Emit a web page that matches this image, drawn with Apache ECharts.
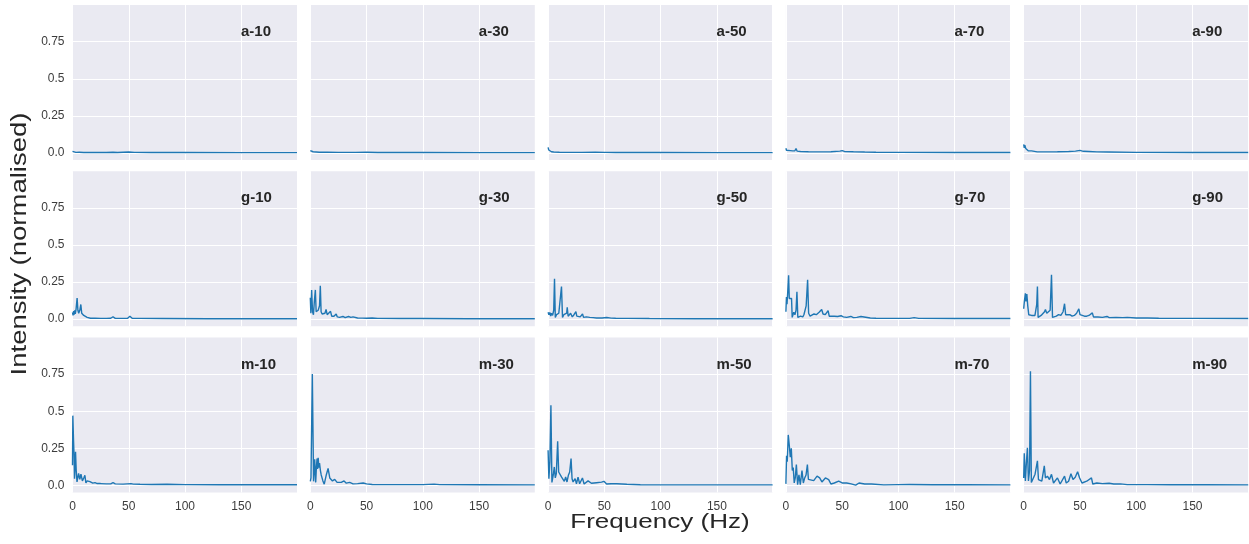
<!DOCTYPE html>
<html>
<head>
<meta charset="utf-8">
<script src="https://cdn.jsdelivr.net/npm/echarts@6/dist/echarts.min.js"></script>
<style>
html,body{margin:0;padding:0;background:#fff;}
#chart{width:1249px;height:544px;}
</style>
</head>
<body>
<div id="chart"></div>
<script>
// ---- data: [frequency (Hz), normalised intensity] ----
const rowKeys = ['a', 'g', 'm'];
const colKeys = ['10', '30', '50', '70', '90'];
const yTicks = [0, 0.25, 0.5, 0.75];
const yTickLabels = ['0.0', '0.25', '0.5', '0.75'];
const xTicks = [0, 50, 100, 150];

const a10 = [[0,0.011],[0.7,0.006],[1.5,0.009],[3,0.004],[6,0.005],[10,0.003],[20,0.004],[30,0.003],[36,0.005],[40,0.003],[50,0.006],[55,0.004],[70,0.003],[100,0.003],[150,0.002],[199.5,0.002]];
const a30 = [[0,0.016],[0.8,0.012],[1.6,0.015],[2.5,0.008],[4,0.006],[8,0.005],[15,0.005],[25,0.004],[40,0.004],[50,0.005],[60,0.003],[100,0.003],[150,0.002],[199.5,0.002]];
const a50 = [[0,0.038],[0.6,0.02],[1.2,0.028],[2,0.012],[3,0.008],[5,0.006],[10,0.005],[20,0.004],[30,0.004],[42,0.005],[50,0.004],[60,0.003],[100,0.003],[150,0.002],[199.5,0.002]];
const a70 = [[0,0.032],[0.5,0.018],[1.2,0.028],[2,0.02],[4,0.016],[6,0.014],[8,0.015],[9,0.03],[10,0.012],[13,0.01],[20,0.008],[30,0.007],[40,0.008],[48,0.012],[50,0.016],[52,0.01],[60,0.008],[70,0.006],[80,0.005],[100,0.004],[150,0.003],[199.5,0.003]];
const a90 = [[0,0.058],[0.5,0.035],[1,0.052],[1.8,0.03],[3,0.02],[4,0.015],[5.5,0.01],[7,0.014],[8,0.008],[12,0.007],[20,0.007],[30,0.008],[40,0.01],[46,0.012],[50,0.017],[53,0.011],[58,0.01],[65,0.007],[75,0.006],[100,0.004],[150,0.003],[199.5,0.003]];

const g10 = [[0,0.046],[0.5,0.025],[1,0.055],[1.5,0.03],[2,0.06],[2.5,0.035],[3.2,0.07],[4.1,0.143],[4.8,0.06],[5.5,0.04],[6.5,0.06],[7.4,0.099],[8.2,0.04],[9,0.03],[10,0.025],[11,0.015],[13,0.012],[16,0.006],[20,0.006],[25,0.005],[30,0.005],[34,0.006],[36,0.016],[38,0.005],[45,0.005],[49,0.006],[51,0.02],[53,0.006],[60,0.005],[80,0.004],[120,0.003],[199.5,0.003]];
const g30 = [[0,0.144],[0.5,0.04],[1.2,0.197],[2,0.05],[2.8,0.03],[3.6,0.12],[4.5,0.197],[5.2,0.05],[6,0.04],[7,0.06],[8.2,0.09],[8.9,0.225],[9.6,0.05],[10.5,0.035],[12,0.03],[13,0.04],[14,0.065],[15,0.03],[16.5,0.025],[18,0.053],[19,0.02],[21,0.02],[23,0.035],[24,0.015],[26,0.012],[29,0.018],[31,0.01],[34,0.018],[36,0.012],[38,0.015],[42,0.008],[46,0.007],[50,0.006],[55,0.008],[60,0.005],[80,0.004],[100,0.004],[140,0.003],[199.5,0.003]];
const g50 = [[0,0.046],[0.7,0.03],[1.5,0.045],[2.3,0.02],[3,0.04],[4,0.025],[5,0.06],[5.7,0.273],[6.4,0.012],[7.5,0.03],[8.5,0.02],[9.5,0.04],[10.5,0.03],[11.9,0.22],[12.8,0.012],[14,0.03],[15,0.02],[16.5,0.04],[17,0.08],[17.8,0.02],[19,0.03],[20,0.04],[21.5,0.015],[23,0.03],[24.7,0.05],[25.5,0.02],[27,0.025],[28.5,0.015],[30.6,0.035],[31.5,0.012],[34,0.015],[37,0.012],[40,0.01],[41.7,0.023],[43,0.008],[48,0.008],[52,0.011],[56,0.007],[60,0.006],[70,0.005],[90,0.004],[130,0.003],[199.5,0.003]];
const g70 = [[0,0.05],[0.5,0.15],[1,0.1],[1.6,0.18],[2.4,0.296],[3,0.139],[3.5,0.15],[4.2,0.139],[5,0.14],[5.6,0.012],[6.3,0.03],[7,0.046],[8,0.03],[9,0.06],[9.8,0.185],[10.6,0.012],[12,0.025],[13,0.02],[14,0.03],[15,0.015],[16,0.03],[17,0.04],[18,0.09],[19.3,0.266],[20.2,0.04],[21.5,0.02],[23,0.03],[25,0.035],[27,0.03],[29.5,0.046],[30.5,0.035],[31.8,0.065],[33,0.035],[35,0.03],[37.5,0.058],[38.5,0.02],[40,0.015],[43,0.02],[46,0.018],[49,0.023],[51,0.015],[54,0.012],[57.7,0.018],[60,0.01],[63,0.012],[66.7,0.018],[68,0.008],[75,0.008],[80,0.006],[90,0.005],[100,0.005],[110,0.005],[114,0.01],[118,0.005],[150,0.004],[199.5,0.004]];
const g90 = [[0,0.07],[0.6,0.12],[1.5,0.174],[2,0.12],[2.8,0.169],[3.6,0.09],[4.5,0.03],[5.5,0.02],[7,0.025],[8.5,0.02],[10,0.025],[11,0.03],[11.6,0.1],[12.2,0.22],[12.8,0.012],[14,0.02],[15.5,0.025],[17,0.02],[18.5,0.05],[19.3,0.065],[20.5,0.04],[22,0.04],[23.5,0.06],[24.7,0.3],[25.6,0.012],[27,0.025],[29,0.02],[31,0.03],[33,0.025],[35,0.05],[36.3,0.104],[37.3,0.03],[39,0.025],[41,0.03],[43,0.02],[45,0.025],[47,0.04],[49,0.07],[50,0.03],[52,0.025],[54,0.02],[56,0.02],[58,0.025],[61,0.042],[62,0.015],[66,0.015],[70,0.012],[74,0.018],[76,0.01],[82,0.012],[88,0.01],[92,0.012],[100,0.008],[110,0.008],[120,0.006],[150,0.005],[199.5,0.004]];

const m10 = [[0,0.136],[0.3,0.47],[0.9,0.307],[1.4,0.2],[1.8,0.045],[2.7,0.227],[3.3,0.1],[4,0.023],[5.4,0.08],[6.5,0.04],[7.5,0.075],[8.8,0.03],[10,0.05],[11,0.068],[11.9,0.016],[13,0.03],[14,0.02],[15.5,0.025],[17,0.03],[18,0.015],[20,0.018],[22,0.012],[25,0.012],[30,0.01],[34,0.01],[36,0.018],[38,0.01],[45,0.008],[52,0.012],[54,0.008],[60,0.007],[70,0.006],[84,0.007],[100,0.005],[130,0.004],[160,0.004],[199.5,0.004]];
const m30 = [[0,0.027],[0.6,0.05],[1.8,0.75],[2.9,0.027],[3.9,0.175],[4.8,0.02],[5.4,0.12],[6,0.18],[6.5,0.11],[7,0.186],[7.6,0.12],[8.2,0.15],[9,0.1],[9.7,0.07],[11.2,0.03],[12.4,0.008],[14.2,0.07],[15.8,0.114],[17.3,0.05],[19.7,0.03],[21.7,0.04],[23.8,0.02],[25.5,0.03],[27.5,0.02],[30,0.03],[32,0.015],[35,0.02],[38,0.01],[42,0.012],[47,0.016],[50,0.01],[55,0.006],[70,0.005],[100,0.005],[110,0.008],[115,0.005],[150,0.004],[199.5,0.003]];
const m50 = [[0,0.236],[0.7,0.045],[1.6,0.16],[2.5,0.54],[3.4,0.02],[4.6,0.07],[5.5,0.124],[6.4,0.05],[7.3,0.08],[8.5,0.297],[9.4,0.09],[10.8,0.08],[12,0.055],[13.2,0.045],[14.4,0.027],[15.6,0.056],[16.8,0.023],[18,0.068],[19.2,0.09],[20.4,0.18],[21.3,0.045],[22.2,0.023],[24,0.045],[25.2,0.011],[26.6,0.056],[28,0.011],[30.5,0.05],[32,0.009],[35.5,0.03],[38.5,0.014],[43,0.018],[47.5,0.022],[49.6,0.027],[52,0.009],[56,0.011],[61,0.011],[70,0.007],[82,0.0045],[100,0.003],[150,0.003],[199.5,0.003]];
const m70 = [[0,0.01],[0.6,0.2],[1.2,0.16],[2.1,0.34],[3,0.27],[3.9,0.19],[4.8,0.25],[5.7,0.1],[6.5,0.12],[7.4,0.016],[8.3,0.05],[9.3,0.14],[10.4,0.005],[11.6,0.07],[12.8,0.005],[14.3,0.1],[15.5,0.016],[16.7,0.05],[17.9,0.07],[19.1,0.14],[20,0.04],[21.7,0.028],[24.7,0.032],[27.7,0.062],[30,0.05],[32,0.023],[35.1,0.05],[38,0.039],[40,0.009],[43,0.016],[46.9,0.028],[50,0.016],[54,0.016],[58,0.01],[62,0.002],[65,0.016],[70,0.009],[76,0.009],[87,0.003],[100,0.005],[110,0.006],[130,0.004],[160,0.004],[199.5,0.003]];
const m90 = [[0,0.05],[0.5,0.216],[1.5,0.03],[2.4,0.154],[3.3,0.253],[4.2,0.03],[5.2,0.1],[6,0.77],[6.8,0.02],[8.6,0.05],[10.1,0.075],[12.2,0.165],[13.1,0.039],[14.6,0.05],[16.1,0.028],[18.3,0.131],[19.3,0.05],[21.1,0.062],[22.9,0.039],[24.7,0.074],[26.5,0.016],[30,0.05],[32.4,0.009],[36.3,0.062],[37.8,0.016],[39.9,0.028],[42,0.078],[43.8,0.039],[45.8,0.055],[47.9,0.092],[49.7,0.05],[51.8,0.016],[56,0.028],[60.2,0.05],[61.4,0.009],[65,0.016],[70,0.012],[75.9,0.014],[80,0.009],[86,0.01],[92,0.005],[110,0.005],[130,0.004],[160,0.004],[199.5,0.003]];

const spectra = {a10,a30,a50,a70,a90,g10,g30,g50,g70,g90,m10,m30,m50,m70,m90};

// ---- layout ----
const FONT = '"Liberation Sans", Arial, Helvetica, sans-serif';
const gridLeft0 = 72.5, colStep = 237.8, gridW = 224.5;
const gridTop0 = 5, rowStep = 166.2, gridH = 155;
const lineColor = '#1f77b4';

const grids = [], xAxes = [], yAxes = [], series = [], titles = [];
let idx = 0;
rowKeys.forEach((rk, r) => {
  colKeys.forEach((ck, c) => {
    const left = gridLeft0 + c * colStep;
    const top = gridTop0 + r * rowStep;
    grids.push({left: left, top: top, width: gridW, height: gridH,
      show: true, backgroundColor: '#EAEAF2', borderWidth: 0, containLabel: false});
    xAxes.push({
      type: 'value', gridIndex: idx, min: 0, max: 199.5, interval: 50,
      axisLine: {show: false}, axisTick: {show: false},
      axisLabel: {show: r === rowKeys.length - 1, showMaxLabel: false, margin: 8,
        fontSize: 12, color: '#3c3c3c', fontFamily: FONT},
      splitLine: {show: true, lineStyle: {color: '#ffffff', width: 1}}
    });
    yAxes.push({
      type: 'value', gridIndex: idx, min: -0.0475, max: 0.9975,
      axisLine: {show: false},
      axisTick: {show: false, customValues: yTicks},
      axisLabel: {show: c === 0, customValues: yTicks, margin: 8,
        fontSize: 12, color: '#3c3c3c', fontFamily: FONT,
        formatter: v => yTickLabels[yTicks.indexOf(v)] ?? String(v)},
      splitLine: {show: true, lineStyle: {color: '#ffffff', width: 1}}
    });
    series.push({
      type: 'line', xAxisIndex: idx, yAxisIndex: idx,
      data: spectra[rk + ck], showSymbol: false, symbol: 'none',
      lineStyle: {color: lineColor, width: 1.4}, clip: true, animation: false
    });
    titles.push({
      text: rk + '-' + ck, left: left + 168.5, top: top + 18, padding: 0,
      textStyle: {fontSize: 15, fontWeight: 'bold', color: '#262626',
        fontFamily: FONT, lineHeight: 18}
    });
    idx++;
  });
});

const chart = echarts.init(document.getElementById('chart'), null, {renderer: 'canvas'});
chart.setOption({
  animation: false,
  backgroundColor: '#ffffff',
  title: titles,
  grid: grids,
  xAxis: xAxes,
  yAxis: yAxes,
  series: series,
  graphic: [
    {type: 'text', x: 660, y: 522, scaleX: 1.24, silent: true,
      style: {text: 'Frequency (Hz)', font: '21px ' + FONT, fill: '#262626',
        align: 'center', verticalAlign: 'middle'}},
    {type: 'text', x: 20, y: 244, rotation: Math.PI / 2, scaleX: 1.25, silent: true,
      style: {text: 'Intensity (normalised)', font: '22px ' + FONT, fill: '#262626',
        align: 'center', verticalAlign: 'middle'}}
  ]
});
</script>
</body>
</html>
